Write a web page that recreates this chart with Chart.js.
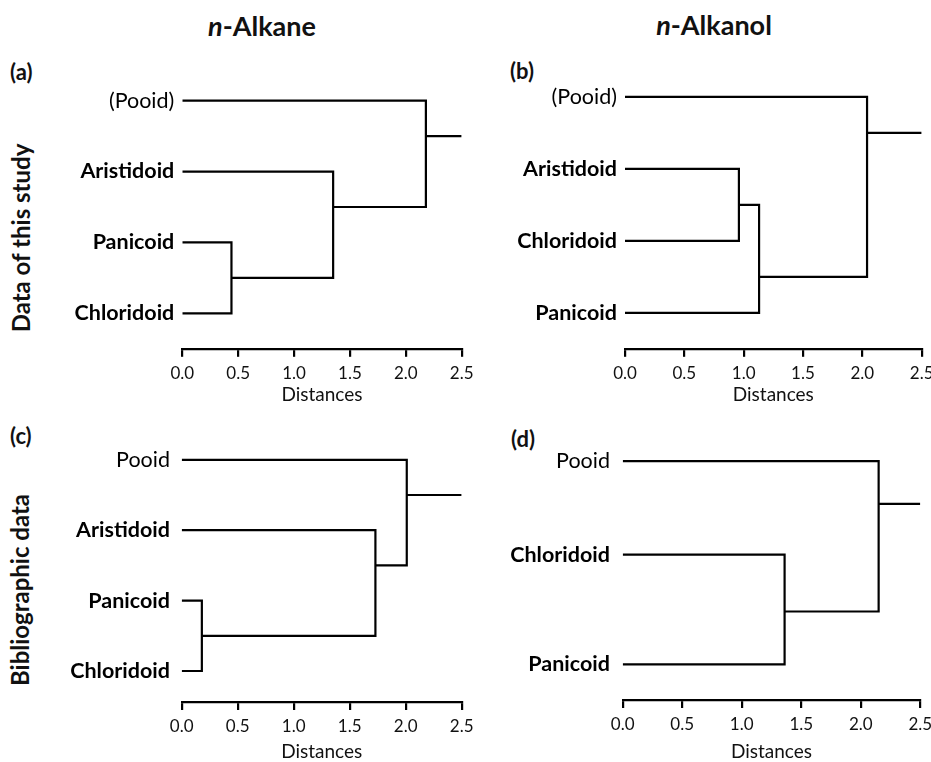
<!DOCTYPE html>
<html>
<head>
<meta charset="utf-8">
<script src="https://cdn.jsdelivr.net/npm/chart.js@4.4.1/dist/chart.umd.min.js"></script>
<style>
  html, body { margin: 0; padding: 0; background: #fff; }
  body { width: 931px; height: 762px; overflow: hidden; position: relative; font-family: Lato, sans-serif; color: #111; }
  .txt { position: absolute; white-space: nowrap; font-weight: bold; line-height: 1; }
  .col { font-size: 27px; transform: translate(-50%, -50%); }
  .row { font-size: 24px; transform: translate(-50%, -50%) rotate(-90deg); }
  .tag { font-size: 22px; transform: translateY(-50%); }
  canvas { position: absolute; }
</style>
</head>
<body>
<div class="txt col" style="left:262px; top:25px;"><i>n</i>-Alkane</div>
<div class="txt col" style="left:714px; top:24px;"><i>n</i>-Alkanol</div>
<div class="txt row" style="left:21px; top:238px;">Data of this study</div>
<div class="txt row" style="left:20px; top:590px;">Bibliographic data</div>
<div class="txt tag" style="left:10px; top:72px;">(a)</div>
<div class="txt tag" style="left:510px; top:71px;">(b)</div>
<div class="txt tag" style="left:10px; top:436px;">(c)</div>
<div class="txt tag" style="left:511px; top:439px;">(d)</div>

<canvas id="panelA" width="480" height="390" style="left:0px; top:40px;"></canvas>
<canvas id="panelB" width="470" height="390" style="left:470px; top:40px;"></canvas>
<canvas id="panelC" width="480" height="380" style="left:0px; top:400px;"></canvas>
<canvas id="panelD" width="470" height="380" style="left:470px; top:400px;"></canvas>

<script>
// Distance axis shared by all four dendrograms
const distTickValues = [0, 0.5, 1, 1.5, 2, 2.5];
const distTickLabels = ['0.0', '0.5', '1.0', '1.5', '2.0', '2.5'];

// (a) n-alkanes, data of this study
const leavesA  = ['(Pooid)', 'Aristidoid', 'Panicoid', 'Chloridoid'];
const leafYA   = [3, 2, 1, 0];
const pairsA   = [[2, 3], [1, 4], [0, 5]];   // clusters joined at each step (leaves 0..3, nodes 4..)
const heightsA = [0.44, 1.35, 2.18];
const nodeYA   = [0.5, 1.5, 2.5];

// (b) n-alkanols, data of this study
const leavesB  = ['(Pooid)', 'Aristidoid', 'Chloridoid', 'Panicoid'];
const leafYB   = [3, 2, 1, 0];
const pairsB   = [[1, 2], [4, 3], [0, 5]];
const heightsB = [0.96, 1.13, 2.04];
const nodeYB   = [1.5, 0.5, 2.5];

// (c) n-alkanes, bibliographic data
const leavesC  = ['Pooid', 'Aristidoid', 'Panicoid', 'Chloridoid'];
const leafYC   = [3, 2, 1, 0];
const pairsC   = [[2, 3], [1, 4], [0, 5]];
const heightsC = [0.18, 1.73, 2.01];
const nodeYC   = [0.5, 1.5, 2.5];

// (d) n-alkanols, bibliographic data
const leavesD  = ['Pooid', 'Chloridoid', 'Panicoid'];
const leafYD   = [2, 1.08, 0];
const pairsD   = [[1, 2], [0, 3]];
const heightsD = [1.36, 2.15];
const nodeYD   = [0.52, 1.58];

const FONT = 'Lato, sans-serif';
const plainLabels = new Set(['Pooid', '(Pooid)']);

// One bracket polyline per fusion, plus the root stub running to the end of the axis
function branchSets(leafY, pairs, heights, nodeY, rootEnd) {
  const xs = leafY.map(() => 0).concat(heights);
  const ys = leafY.concat(nodeY);
  const sets = pairs.map(([a, b], k) => ({
    data: [
      { x: xs[a], y: ys[a] },
      { x: heights[k], y: ys[a] },
      { x: heights[k], y: ys[b] },
      { x: xs[b], y: ys[b] }
    ]
  }));
  const r = ys.length - 1;
  sets.push({ data: [{ x: xs[r], y: ys[r] }, { x: rootEnd, y: ys[r] }] });
  return sets;
}

function drawPanel(id, tree, frame) {
  const axisMax = distTickValues[distTickValues.length - 1];
  const datasets = branchSets(tree.leafY, tree.pairs, tree.heights, tree.nodeY, axisMax).map(d => Object.assign(d, {
    showLine: true,
    borderColor: '#000',
    borderWidth: 2.2,
    borderJoinStyle: 'miter',
    borderCapStyle: 'butt',
    pointRadius: 0,
    pointHoverRadius: 0,
    tension: 0
  }));

  new Chart(document.getElementById(id), {
    type: 'scatter',
    data: { datasets },
    options: {
      responsive: false,
      animation: false,
      events: [],
      layout: { padding: frame.padding },
      plugins: { legend: { display: false }, tooltip: { enabled: false } },
      scales: {
        x: {
          type: 'linear',
          min: 0,
          max: axisMax,
          afterBuildTicks: s => { s.ticks = distTickValues.map(v => ({ value: v })); },
          afterFit: s => { s.height = frame.xAxisH; },
          ticks: {
            callback: (v, i) => distTickLabels[i],
            font: { family: FONT, size: 17 },
            color: '#111',
            padding: 6.5,
            maxRotation: 0,
            autoSkip: false
          },
          grid: { display: true, drawOnChartArea: false, drawTicks: true, tickLength: 8, lineWidth: 2.2, color: '#000' },
          border: { display: true, width: 2.2, color: '#000' },
          title: { display: true, text: 'Distances', font: { family: FONT, size: 19 }, color: '#111', padding: { top: 4, bottom: 4 } }
        },
        y: {
          type: 'linear',
          min: frame.yMin,
          max: frame.yMax,
          afterBuildTicks: s => { s.ticks = tree.leafY.map(v => ({ value: v })); },
          afterFit: s => { s.width = frame.yAxisW; },
          ticks: {
            callback: v => tree.leaves[tree.leafY.indexOf(v)],
            font: ctx => {
              const name = tree.leaves[tree.leafY.indexOf(ctx.tick ? ctx.tick.value : NaN)];
              return { family: FONT, size: 21.5, weight: plainLabels.has(name) ? 'normal' : 'bold' };
            },
            color: '#000',
            padding: frame.labelPad,
            autoSkip: false
          },
          grid: { display: false, drawTicks: false, tickLength: 0 },
          border: { display: false }
        }
      }
    }
  });
}

drawPanel('panelA',
  { leaves: leavesA, leafY: leafYA, pairs: pairsA, heights: heightsA, nodeY: nodeYA },
  { padding: { top: 25.2, right: 14.3, bottom: 19.6, left: 0 }, yAxisW: 182.3, xAxisH: 61.6, yMin: -0.5, yMax: 3.5, labelPad: 8 });

drawPanel('panelB',
  { leaves: leavesB, leafY: leafYB, pairs: pairsB, heights: heightsB, nodeY: nodeYB },
  { padding: { top: 12.3, right: 18.3, bottom: 19.6, left: 0 }, yAxisW: 155, xAxisH: 61.6, yMin: -0.5, yMax: 3.5, labelPad: 8 });

drawPanel('panelC',
  { leaves: leavesC, leafY: leafYC, pairs: pairsC, heights: heightsC, nodeY: nodeYC },
  { padding: { top: 20, right: 17.3, bottom: 13.1, left: 0 }, yAxisW: 181.7, xAxisH: 64.9, yMin: -0.44, yMax: 3.5, labelPad: 11.7 });

drawPanel('panelD',
  { leaves: leavesD, leafY: leafYD, pairs: pairsD, heights: heightsD, nodeY: nodeYD },
  { padding: { top: 17.7, right: 19.7, bottom: 13.1, left: 0 }, yAxisW: 152.7, xAxisH: 66.9, yMin: -0.351, yMax: 2.35, labelPad: 12.7 });
</script>
</body>
</html>
